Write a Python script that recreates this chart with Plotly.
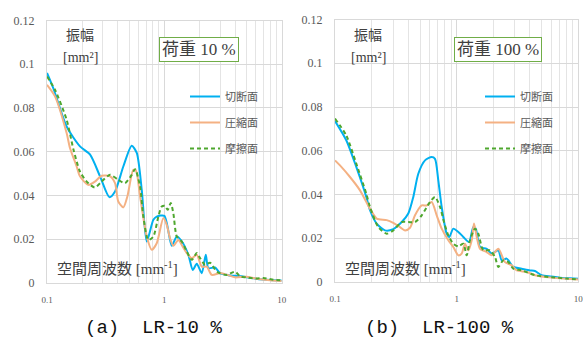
import plotly.graph_objects as go

W, H = 586, 354

# ---------------- data ----------------
# (a) LR-10 %
a_cut_f = [0.1, 0.1132, 0.147, 0.191, 0.233, 0.283, 0.340, 0.380, 0.447, 0.527, 0.582, 0.642, 0.708,
           0.806, 0.861, 1.0, 1.156, 1.276, 1.407, 1.602, 1.747, 1.889, 2.084, 2.254, 2.372, 2.705,
           2.985, 3.5, 4.5, 5.5, 7.0, 8.5, 10.0]
a_cut_v = [0.096, 0.089, 0.0715, 0.0624, 0.0586, 0.0487, 0.0392, 0.0418, 0.0532, 0.0627, 0.0594, 0.0425,
           0.0189, 0.0288, 0.0303, 0.0306, 0.0169, 0.0212, 0.019, 0.0128, 0.0059, 0.0087, 0.0044, 0.0128,
           0.0067, 0.007, 0.0044, 0.0035, 0.003, 0.0022, 0.0015, 0.0012, 0.001]

a_comp_f = [0.1, 0.117, 0.147, 0.157, 0.179, 0.191, 0.225, 0.256, 0.292, 0.345, 0.380, 0.405, 0.447,
            0.484, 0.544, 0.574, 0.621, 0.708, 0.781, 0.861, 0.981, 1.048, 1.118, 1.193, 1.317, 1.435,
            1.552, 1.713, 1.889, 2.084, 2.299, 2.535, 3.0, 3.5, 4.0, 5.0, 6.0, 8.0, 10.0]
a_comp_v = [0.0906, 0.0853, 0.0685, 0.0617, 0.0532, 0.0487, 0.0448, 0.0463, 0.049, 0.0487, 0.0456, 0.0372,
            0.0345, 0.0395, 0.0517, 0.0512, 0.0395, 0.0212, 0.0151, 0.0181, 0.0296, 0.0265, 0.0204, 0.0169,
            0.0196, 0.0165, 0.0136, 0.0113, 0.0128, 0.0074, 0.0074, 0.0036, 0.0045, 0.0035, 0.0025, 0.0028,
            0.002, 0.0012, 0.0008]

a_fric_f = [0.1, 0.117, 0.147, 0.168, 0.191, 0.218, 0.256, 0.292, 0.345, 0.405, 0.462, 0.527, 0.563,
            0.621, 0.662, 0.730, 0.806, 0.889, 0.950, 1.014, 1.069, 1.134, 1.193, 1.276, 1.407, 1.552,
            1.713, 1.889, 2.015, 2.222, 2.453, 2.797, 3.40, 4.01, 4.42, 5.0, 6.0, 7.0, 8.5, 10.0]
a_fric_v = [0.0944, 0.0883, 0.0746, 0.061, 0.0509, 0.0463, 0.0436, 0.0463, 0.0494, 0.0471, 0.0456, 0.0494,
            0.052, 0.0441, 0.0303, 0.0196, 0.0212, 0.0303, 0.0349, 0.0352, 0.0334, 0.0365, 0.0318, 0.0212,
            0.0189, 0.0143, 0.0105, 0.0136, 0.0113, 0.0082, 0.0092, 0.0051, 0.0036, 0.0051, 0.0029, 0.0025,
            0.002, 0.0022, 0.0014, 0.0012]

# (b) LR-100 %
b_cut_f = [0.1, 0.1238, 0.1496, 0.1808, 0.194, 0.2202, 0.2576, 0.3014, 0.3534, 0.4004, 0.4402, 0.4839,
           0.5494, 0.6235, 0.6637, 0.7065, 0.7536, 0.8285, 0.8704, 0.9387, 1.032, 1.1343, 1.2636, 1.3707,
           1.4343, 1.556, 1.766, 1.9416, 2.2, 2.346, 2.579, 2.922, 3.425, 4.009, 4.406, 5.0, 6.0, 7.0,
           8.5, 10.0]
b_cut_v = [0.0736, 0.0648, 0.0526, 0.0389, 0.0328, 0.0267, 0.0236, 0.0242, 0.0274, 0.0313, 0.0389, 0.0495,
           0.0556, 0.0571, 0.0563, 0.0465, 0.0343, 0.0221, 0.0206, 0.0244, 0.0229, 0.0206, 0.0183, 0.0251,
           0.0244, 0.016, 0.0152, 0.013, 0.0145, 0.0099, 0.0107, 0.0069, 0.0061, 0.0053, 0.005, 0.0031,
           0.0025, 0.002, 0.0017, 0.0015]

b_comp_f = [0.1, 0.1099, 0.1328, 0.1605, 0.194, 0.2202, 0.266, 0.3014, 0.342, 0.3762, 0.4136, 0.4547,
            0.5161, 0.5673, 0.6235, 0.6855, 0.7536, 0.854, 0.9387, 1.032, 1.1, 1.171, 1.247, 1.33, 1.389,
            1.462, 1.556, 1.766, 1.9416, 2.2, 2.497, 2.835, 3.117, 3.765, 4.406, 6.0, 8.0, 10.0]
b_comp_v = [0.0556, 0.0533, 0.048, 0.0419, 0.0335, 0.029, 0.0283, 0.027, 0.0251, 0.0236, 0.0248, 0.0305,
            0.035, 0.035, 0.0366, 0.0305, 0.0244, 0.0191, 0.016, 0.0122, 0.013, 0.0175, 0.0145, 0.0191,
            0.0267, 0.0206, 0.0152, 0.0137, 0.0122, 0.0152, 0.0091, 0.0076, 0.0053, 0.0046, 0.0031, 0.002,
            0.0015, 0.0012]

b_fric_f = [0.1, 0.1238, 0.1496, 0.1808, 0.194, 0.2269, 0.266, 0.3014, 0.3534, 0.4004, 0.4547, 0.5161,
            0.604, 0.6637, 0.7298, 0.787, 0.854, 0.9387, 1.032, 1.1343, 1.209, 1.287, 1.415, 1.507, 1.656,
            1.88, 2.067, 2.2, 2.418, 2.659, 2.922, 3.425, 4.406, 6.0, 8.0, 10.0]
b_fric_v = [0.0747, 0.067, 0.0541, 0.0404, 0.0343, 0.0251, 0.0221, 0.0236, 0.0274, 0.0274, 0.0274, 0.0305,
            0.0366, 0.0389, 0.0343, 0.0274, 0.0213, 0.0175, 0.0163, 0.0175, 0.0122, 0.0191, 0.0244, 0.0221,
            0.0145, 0.0145, 0.0114, 0.0069, 0.0099, 0.0091, 0.0061, 0.0053, 0.0031, 0.0022, 0.0016, 0.0012]

series_names = ["切断面", "圧縮面", "摩擦面"]
x_ticks = [0.1, 1, 10]
x_ticktext = ["0.1", "1", "10"]
x_minor = [0.2, 0.3, 0.4, 0.5, 0.6, 0.7, 0.8, 0.9, 2, 3, 4, 5, 6, 7, 8, 9]
load_labels = ["荷重 10 %", "荷重 100 %"]
captions = ["(a)  LR-10 %", "(b)  LR-100 %"]

# ---------------- styles ----------------
BLUE = "#00B0F0"
ORANGE = "#F4B183"
GREEN = "#4EA72E"
GRID = "#D9D9D9"
SERIF = "Liberation Serif, 'Noto Sans CJK JP', serif"
SANS = "'Noto Sans CJK JP', 'Noto Sans', sans-serif"

fig = go.Figure()

panels = [
    dict(data=[(a_cut_f, a_cut_v), (a_comp_f, a_comp_v), (a_fric_f, a_fric_v)],
         xa="x", ya="y", legend="legend", xl=47, xr=281.7, yt=20.5, yb=282.8),
    dict(data=[(b_cut_f, b_cut_v), (b_comp_f, b_comp_v), (b_fric_f, b_fric_v)],
         xa="x2", ya="y2", legend="legend2", xl=335, xr=578.3, yt=19.5, yb=282.0),
]
styles = [dict(color=BLUE, width=2), dict(color=ORANGE, width=2),
          dict(color=GREEN, width=2, dash="4px,3px")]

for p in panels:
    for i, (f, v) in enumerate(p["data"]):
        fig.add_trace(go.Scatter(
            x=f, y=v, mode="lines", name=series_names[i],
            line=dict(shape="spline", smoothing=0.7, **styles[i]),
            xaxis=p["xa"], yaxis=p["ya"], legend=p["legend"],
            legendgroup=p["legend"] + str(i), showlegend=True, hoverinfo="skip",
        ))

def xax(p):
    return dict(type="log", range=[-1, 1], domain=[p["xl"] / W, p["xr"] / W],
                tickvals=x_ticks, ticktext=x_ticktext, showgrid=True, gridcolor=GRID, gridwidth=1,
                minor=dict(tickvals=x_minor, showgrid=True, gridcolor="#E4E4E4", gridwidth=1),
                showline=True, linecolor=GRID, linewidth=1, mirror=True, ticks="", zeroline=False,
                tickfont=dict(family=SERIF, size=9, color="#595959"), ticklabelstandoff=8,
                anchor=p["ya"], automargin=False)

def yax(p):
    return dict(range=[0, 0.12], dtick=0.02, tick0=0, domain=[1 - p["yb"] / H, 1 - p["yt"] / H],
                showgrid=True, gridcolor=GRID, gridwidth=1, zeroline=False,
                showline=True, linecolor=GRID, linewidth=1, mirror=True, ticks="",
                tickfont=dict(family=SERIF, size=12, color="#595959"), ticklabelstandoff=9,
                anchor=p["xa"], automargin=False)

legend_common = dict(font=dict(family=SANS, size=11, color="#595959"), bgcolor="rgba(0,0,0,0)",
                     borderwidth=0, tracegroupgap=7, itemwidth=30, xanchor="left", yanchor="top")

fig.update_layout(
    width=W, height=H, margin=dict(l=0, r=0, t=0, b=0, pad=0, autoexpand=False),
    paper_bgcolor="white", plot_bgcolor="white", hovermode=False,
    xaxis=xax(panels[0]), yaxis=yax(panels[0]),
    xaxis2=xax(panels[1]), yaxis2=yax(panels[1]),
    legend=dict(x=185 / W, y=1 - 82 / H, **legend_common),
    legend2=dict(x=480 / W, y=1 - 82 / H, **legend_common),
)

ann = []
for k, (cx_amp, box_cx, freq_x, cap_cx) in enumerate([(80, 199, 55, 153), (368, 498, 343, 439)]):
    common = dict(xref="paper", yref="paper", showarrow=False, xanchor="center", yanchor="middle")
    ann.append(dict(text="振幅", x=cx_amp / W, y=1 - 35 / H,
                    font=dict(family=SERIF, size=14, color="#404040"), **common))
    ann.append(dict(text="[mm²]", x=cx_amp / W, y=1 - 58 / H,
                    font=dict(family=SERIF, size=14, color="#404040"), **common))
    ann.append(dict(text=load_labels[k], x=box_cx / W, y=1 - 49.5 / H,
                    font=dict(family=SERIF, size=17, color="#404040"),
                    bordercolor="#70AD47", borderwidth=1, borderpad=2, bgcolor="white", **common))
    ann.append(dict(text="空間周波数 [mm<sup>-1</sup>]", x=freq_x / W, y=1 - 268 / H,
                    xref="paper", yref="paper", showarrow=False, xanchor="left", yanchor="middle",
                    font=dict(family=SERIF, size=15, color="#404040")))
    ann.append(dict(text=captions[k], x=cap_cx / W, y=1 - 328 / H,
                    font=dict(family="Liberation Mono, DejaVu Sans Mono, monospace",
                              size=19, color="#111111"), **common))
fig.update_layout(annotations=ann)

fig.write_html("out.html", config={"displayModeBar": False, "staticPlot": False},
               post_script="document.body.style.margin='0';document.body.style.overflow='hidden';")
